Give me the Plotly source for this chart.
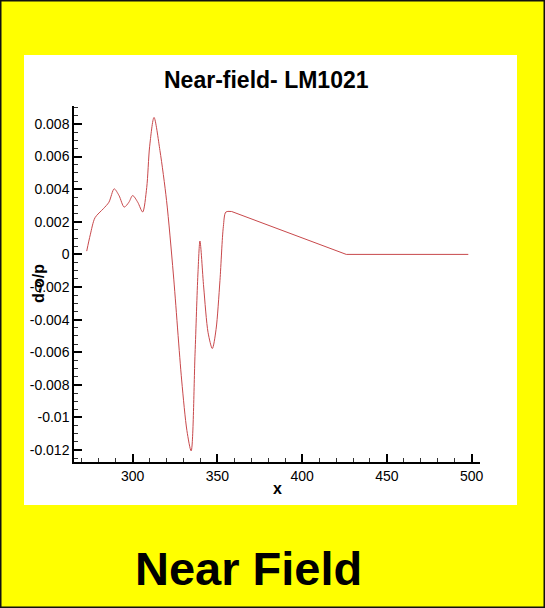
import plotly.graph_objects as go

# Near-field pressure signature of the LM1021 configuration
x_pos = [272.9, 275.0, 277.8, 282.7, 286.0, 289.1, 292.0, 295.0, 297.8, 300.0,
         303.0, 305.9, 308.3, 310.0, 312.6, 316.1, 320.0, 324.0, 328.9, 332.0,
         334.5, 336.8, 338.5, 339.7, 341.9, 344.5, 347.0, 349.2, 351.5, 353.5,
         355.0, 358.4, 426.0, 498.0]
dp_over_p = [0.0002, 0.0012, 0.00225, 0.0028, 0.0032, 0.00402, 0.0036, 0.0029, 0.0032, 0.00361,
             0.0032, 0.0026, 0.0041, 0.0066, 0.0084, 0.00637, 0.0033, -0.0012, -0.0077, -0.0108,
             -0.01205, -0.0061, -0.0012, 0.00082, -0.002, -0.0048, -0.00577, -0.0046, -0.0016, 0.0017,
             0.0026, 0.00263, 0.0, 0.0]

y_tick_vals = [0.008, 0.006, 0.004, 0.002, 0, -0.002, -0.004, -0.006, -0.008, -0.01, -0.012]
y_tick_text = ["0.008", "0.006", "0.004", "0.002", "0", "-0.002", "-0.004", "-0.006",
               "-0.008", "-0.01", "-0.012"]
x_tick_vals = [300, 350, 400, 450, 500]
x_tick_text = ["300", "350", "400", "450", "500"]

W, H = 545, 608
L, R, T, B = 74, 480, 106, 462  # plot area in pixels


def px(x):
    return (x - L) / (R - L)


def py(y):
    return (B - y) / (B - T)


FONT = "Liberation Sans, Arial, sans-serif"
LINE = dict(color="#c8484b", width=1)

# the oscillating part is smoothed; the straight decay and flat tail are not
split = x_pos.index(358.4)

fig = go.Figure()
fig.add_trace(go.Scatter(
    x=x_pos[:split + 1], y=dp_over_p[:split + 1], mode="lines",
    line=dict(**LINE, shape="spline", smoothing=0.8),
    hoverinfo="skip", showlegend=False,
))
fig.add_trace(go.Scatter(
    x=x_pos[split:], y=dp_over_p[split:], mode="lines",
    line=dict(**LINE, shape="linear"),
    hoverinfo="skip", showlegend=False,
))

axis_common = dict(
    showline=True, linecolor="black", linewidth=1.5, mirror=False,
    ticks="inside", ticklen=8, tickwidth=1.5, tickcolor="black",
    showgrid=False, zeroline=False,
    tickfont=dict(family=FONT, size=14, color="black"),
)

fig.update_xaxes(
    range=[265.4, 504.9], tickmode="array", tickvals=x_tick_vals, ticktext=x_tick_text,
    minor=dict(tickmode="linear", tick0=0, dtick=10, ticks="inside", ticklen=4,
               tickwidth=1, tickcolor="#333"),
    **axis_common,
)
fig.update_yaxes(
    range=[-0.01273, 0.0091], tickmode="array", tickvals=y_tick_vals, ticktext=y_tick_text,
    minor=dict(tickmode="linear", tick0=0, dtick=0.0005, ticks="inside", ticklen=4,
               tickwidth=1, tickcolor="#333"),
    **axis_common,
)

shapes = [
    # white panel behind the chart
    dict(type="rect", xref="paper", yref="paper", layer="below",
         x0=px(24), x1=px(517), y0=py(505), y1=py(55),
         fillcolor="white", line=dict(width=0)),
    # dark frame around the page
    dict(type="rect", xref="paper", yref="paper",
         x0=px(0.75), x1=px(W - 0.75), y0=py(H - 0.75), y1=py(0.75),
         fillcolor="rgba(0,0,0,0)", line=dict(color="#111", width=1.5)),
]

annotations = [
    dict(text="Near-field- LM1021", xref="paper", yref="paper", x=px(266), y=py(80),
         xanchor="center", yanchor="middle", showarrow=False,
         font=dict(family=FONT, size=23, color="black", weight="bold")),
    dict(text="d-o/p", xref="paper", yref="paper", x=px(38), y=py(284),
         xanchor="center", yanchor="middle", showarrow=False, textangle=-90,
         font=dict(family=FONT, size=16, color="black", weight="bold")),
    dict(text="x", xref="paper", yref="paper", x=px(277), y=py(488),
         xanchor="center", yanchor="middle", showarrow=False,
         font=dict(family=FONT, size=16, color="black", weight="bold")),
    dict(text="Near Field", xref="paper", yref="paper", x=px(248), y=py(568),
         xanchor="center", yanchor="middle", showarrow=False,
         font=dict(family=FONT, size=47, color="black", weight="bold")),
]

fig.update_layout(
    width=W, height=H,
    margin=dict(l=L, r=W - R, t=T, b=H - B, pad=0),
    paper_bgcolor="#ffff00", plot_bgcolor="white",
    shapes=shapes, annotations=annotations,
    font=dict(family=FONT),
)

fig.write_html("out.html")
